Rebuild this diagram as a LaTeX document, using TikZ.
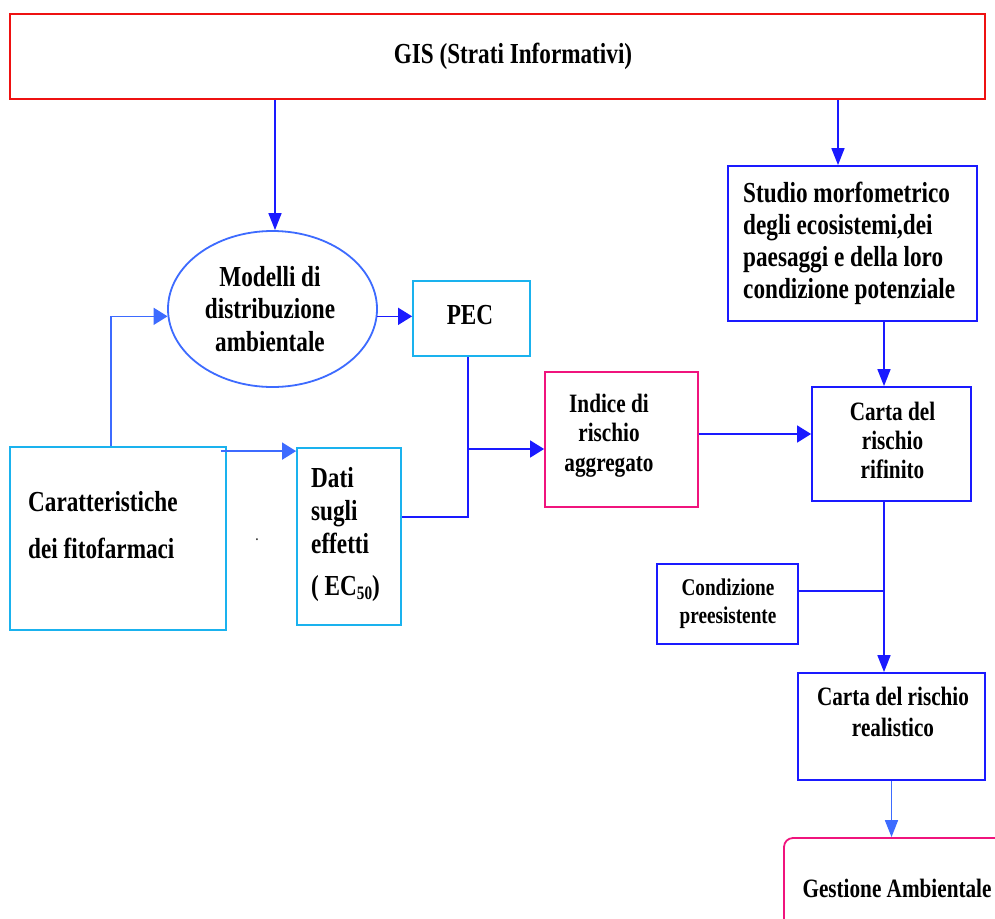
\documentclass[tikz,border=0pt]{standalone}
\usepackage{fontspec}
\newfontfamily\dfont[FakeStretch=0.8]{Liberation Serif}
\usetikzlibrary{arrows.meta,shapes.geometric}
\definecolor{gisred}{HTML}{EE1111}
\definecolor{cyanb}{HTML}{1AB2EE}
\definecolor{lblue}{HTML}{3D6BFF}
\definecolor{dblue}{HTML}{1A1AFF}
\definecolor{magb}{HTML}{F0147D}
\newcommand\clines[1]{\vtop{\halign{\hfil##\hfil\cr#1\crcr}}}
\newcommand\llines[1]{\vtop{\halign{##\hfil\cr#1\crcr}}}
\newcommand\fs[2]{\fontsize{#1}{#2}\selectfont}
\begin{document}
\begin{tikzpicture}[x=1pt,y=-1pt,
  box/.style={draw, line width=1.8pt, inner sep=0pt},
  txt/.style={inner sep=0pt, font=\dfont\bfseries},
  lineB/.style={draw=dblue, line width=1.6pt},
  lineL/.style={draw=lblue, line width=1.6pt},
  arrH/.style={lineB, -{Triangle[length=14pt,width=17pt]}},
  arrV/.style={lineB, -{Triangle[length=17pt,width=13pt]}},
  arrHL/.style={lineL, -{Triangle[length=14pt,width=17pt]}},
  arrVL/.style={lineL, -{Triangle[length=17pt,width=13pt]}}]
\clip (0,0) rectangle (995,918);
\fill[white] (0,0) rectangle (995,918);
% boxes
\node[box, draw=gisred, line width=2.5pt, minimum width=975pt, minimum height=85pt] (gis) at (497.5,56.5) {};
\node[box, ellipse, draw=lblue, minimum width=209pt, minimum height=156pt] (ell) at (272.5,309) {};
\node[box, draw=cyanb, minimum width=117pt, minimum height=75pt] (pec) at (471.5,318.5) {};
\node[box, draw=cyanb, minimum width=216pt, minimum height=183pt] (car) at (118,538.5) {};
\node[box, draw=cyanb, minimum width=104pt, minimum height=177pt] (dati) at (349,536.5) {};
\node[box, draw=magb, minimum width=153pt, minimum height=135pt] (ind) at (621.5,439.5) {};
\node[box, draw=dblue, minimum width=159pt, minimum height=114pt] (rif) at (891.5,444) {};
\node[box, draw=dblue, minimum width=249pt, minimum height=155pt] (stu) at (852.5,243.5) {};
\node[box, draw=dblue, minimum width=141pt, minimum height=80pt] (con) at (727.5,604) {};
\node[box, draw=dblue, minimum width=187pt, minimum height=107pt] (rea) at (891.5,726.5) {};
\node[box, draw=magb, rounded corners=9pt, minimum width=226pt, minimum height=102pt] (ges) at (897,889) {};
% texts
\node[txt, anchor=base] (tgis) at (513,63) {\fs{29}{33}GIS (Strati Informativi)};
\node[txt, anchor=base] (tell) at (270,286) {\fs{29}{32.5}\clines{Modelli di\cr distribuzione\cr ambientale}};
\node[txt, anchor=base] (tpec) at (470,324) {\fs{29}{33}PEC};
\node[txt, anchor=base west] (tcar) at (28,511) {\fs{29}{47}\llines{Caratteristiche\cr dei fitofarmaci}};
\node[txt, anchor=base west] (tdati) at (311,487) {\fs{29}{33}\llines{Dati\cr sugli\cr effetti\cr\noalign{\vskip 9pt}( EC\raisebox{-4pt}{\fs{19}{19}50})}};
\node[txt, anchor=base] (tdot) at (257,540) {\fs{12}{12}.};
\node[txt, anchor=base] (tind) at (609,412) {\fs{26.5}{29.5}\clines{Indice di\cr rischio\cr aggregato}};
\node[txt, anchor=base] (trif) at (892.5,420) {\fs{26.5}{29}\clines{Carta del\cr rischio\cr rifinito}};
\node[txt, anchor=base west] (tstu) at (743,202) {\fs{29}{32}\llines{Studio morfometrico\cr degli ecosistemi,dei\cr paesaggi e della loro\cr condizione potenziale}};
\node[txt, anchor=base] (tcon) at (728,595) {\fs{24}{28}\clines{Condizione\cr preesistente}};
\node[txt, anchor=base] (trea) at (893,705) {\fs{26.5}{31}\clines{Carta del rischio\cr realistico}};
\node[txt, anchor=base] (tges) at (897,897) {\fs{26.5}{30}Gestione Ambientale};
% connectors
\coordinate (g1) at ([xshift=2.5pt]ell.north |- gis.south);
\draw[arrV] (g1) -- (g1 |- ell.north);
\coordinate (g2) at ([xshift=-14.5pt]stu.north |- gis.south);
\draw[arrV] (g2) -- (g2 |- stu.north);
\draw[arrH] (ell.-4) -- (ell.-4 -| pec.west);
\draw[arrHL] ([xshift=-7pt]car.north) |- (ell.184);
\coordinate (c1) at ([xshift=-6pt,yshift=-5pt]car.north east);
\draw[arrHL] (c1) -- (c1 -| dati.west);
\coordinate (d1) at ([yshift=19.5pt]dati.east);
\coordinate (p1) at ([xshift=-3.5pt]pec.south);
\draw[lineB] (d1) -| (p1);
\coordinate (j1) at (p1 |- 0,449);
\draw[arrH] (j1) -- (j1 -| ind.west);
\coordinate (i1) at ([yshift=5.5pt]ind.east);
\draw[arrH] (i1) -- (i1 -| rif.west);
\coordinate (s1) at ([xshift=31.5pt]stu.south);
\draw[arrV] (s1) -- (s1 |- rif.north);
\coordinate (r1) at ([xshift=-7.5pt]rif.south);
\draw[arrV] (r1) -- (r1 |- rea.north);
\coordinate (c2) at ([yshift=13pt]con.east);
\draw[lineB] (c2) -- (c2 -| r1);
\draw[arrVL] (rea.south) -- (rea.south |- ges.north);
\end{tikzpicture}
\end{document}
